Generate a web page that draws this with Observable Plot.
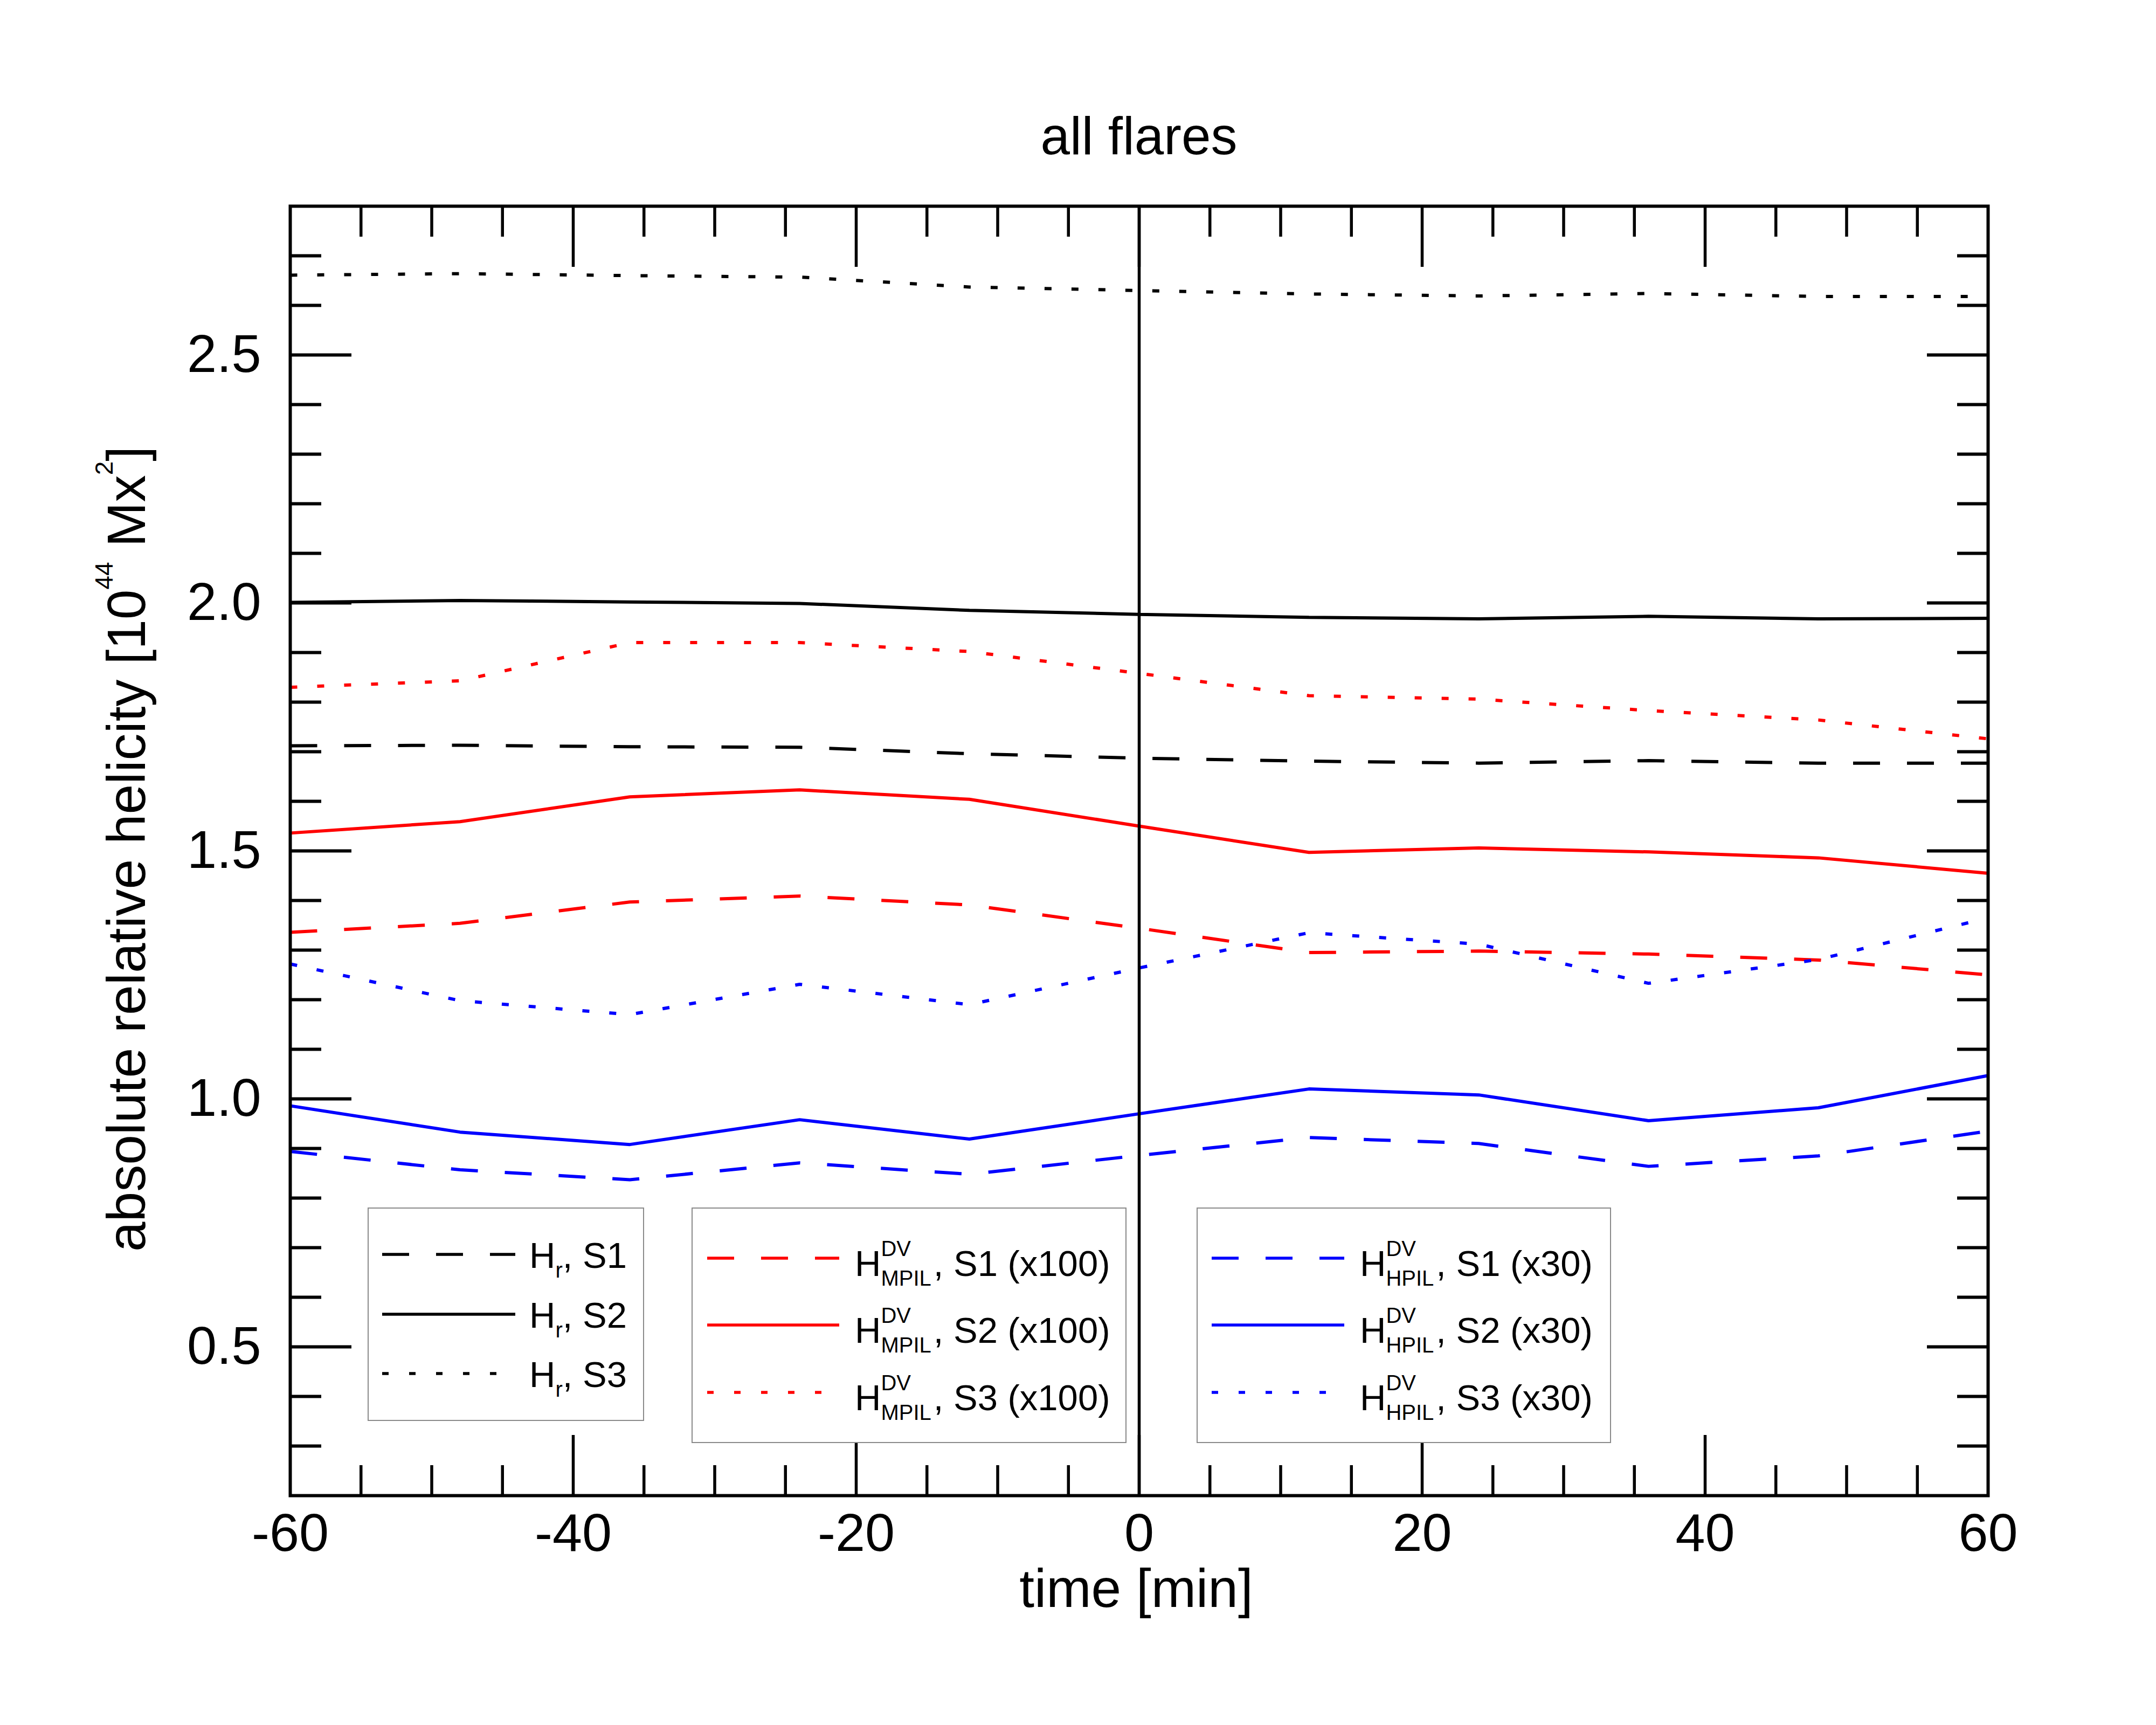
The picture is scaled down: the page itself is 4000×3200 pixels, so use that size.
<!DOCTYPE html>
<html>
<head>
<meta charset="utf-8">
<script src="https://cdn.jsdelivr.net/npm/d3@7"></script>
<script src="https://cdn.jsdelivr.net/npm/@observablehq/plot@0.6"></script>
<style>
html, body { margin: 0; padding: 0; background: #fff; }
#wrap { position: relative; width: 4000px; height: 3200px; font-family: "Liberation Sans", Arial, Helvetica, sans-serif; color: #000; overflow: hidden; }
#chart { position: absolute; left: 0; top: 330px; }
.title { position: absolute; left: 1113px; top: 203px; width: 2000px; text-align: center; font-size: 98px; line-height: 98px; white-space: nowrap; }
.xlabel { position: absolute; left: 1108px; top: 2896px; width: 2000px; text-align: center; font-size: 100px; line-height: 100px; white-space: nowrap; }
.ylabel { position: absolute; left: -766px; top: 1525px; width: 2000px; height: 100px; text-align: center; font-size: 100px; line-height: 100px; white-space: nowrap; transform: rotate(-90deg); }
.ysup { font-size: 46px; position: relative; top: -60px; }
.lbox { position: absolute; box-sizing: border-box; border: 2px solid #8a8a8a; background: #fff; }
.lt { position: absolute; font-size: 67px; line-height: 67px; white-space: nowrap; }
.sub { font-size: 40px; position: relative; top: 18px; }
.ss { display: inline-block; position: relative; font-size: 40px; line-height: 40px; margin-right: 4px; }
.ss .sb { position: relative; top: 18px; }
.ss .sp { position: absolute; left: 0; top: -37px; }
.samp { position: absolute; overflow: visible; }
</style>
</head>
<body>
<div id="wrap">
  <div class="title">all flares</div>
  <div id="chart"></div>
  <div class="xlabel">time [min]</div>
  <div class="ylabel">absolute relative helicity [10<span class="ysup">44</span> Mx<span class="ysup">2</span>]</div>
</div>
<script>
// ---------- data ----------
const time = [-60, -48, -36, -24, -12, 0, 12, 24, 36, 48, 60];

const hrS1 = [1.712, 1.713, 1.710, 1.709, 1.696, 1.687, 1.681, 1.677, 1.682, 1.677, 1.677];
const hrS2 = [2.001, 2.005, 2.002, 1.999, 1.985, 1.977, 1.971, 1.968, 1.973, 1.968, 1.969];
const hrS3 = [2.661, 2.664, 2.660, 2.657, 2.637, 2.630, 2.623, 2.619, 2.624, 2.618, 2.618];

const mpilS1 = [1.336, 1.354, 1.397, 1.409, 1.391, 1.344, 1.295, 1.298, 1.292, 1.280, 1.250];
const mpilS2 = [1.536, 1.559, 1.609, 1.623, 1.604, 1.550, 1.497, 1.506, 1.498, 1.486, 1.455];
const mpilS3 = [1.830, 1.843, 1.920, 1.920, 1.902, 1.858, 1.813, 1.806, 1.783, 1.764, 1.726];

const hpilS1 = [0.894, 0.857, 0.837, 0.871, 0.848, 0.886, 0.922, 0.910, 0.864, 0.885, 0.935];
const hpilS2 = [0.986, 0.933, 0.908, 0.958, 0.919, 0.970, 1.020, 1.008, 0.956, 0.982, 1.047];
const hpilS3 = [1.272, 1.198, 1.170, 1.231, 1.190, 1.264, 1.335, 1.312, 1.233, 1.281, 1.365];

const xTickLabels = [-60, -40, -20, 0, 20, 40, 60];
const yTickLabels = [0.5, 1.0, 1.5, 2.0, 2.5];
const sessions = ["S1", "S2", "S3"];

// ---------- styling ----------
const DASH = "50,50", DOT = "13,37", SOLID = null;
const series = [
  {key: "hrS1", values: hrS1, color: "#000000", dash: DASH},
  {key: "hrS2", values: hrS2, color: "#000000", dash: SOLID},
  {key: "hrS3", values: hrS3, color: "#000000", dash: DOT},
  {key: "mpilS1", values: mpilS1, color: "#ff0000", dash: DASH},
  {key: "mpilS2", values: mpilS2, color: "#ff0000", dash: SOLID},
  {key: "mpilS3", values: mpilS3, color: "#ff0000", dash: DOT},
  {key: "hpilS1", values: hpilS1, color: "#0000ff", dash: DASH},
  {key: "hpilS2", values: hpilS2, color: "#0000ff", dash: SOLID},
  {key: "hpilS3", values: hpilS3, color: "#0000ff", dash: DOT}
];
const rows = series.flatMap(s => time.map((t, i) => ({series: s.key, t, v: s.values[i]})));

const xMajor = [-40, -20, 0, 20, 40];
const xMinor = d3.range(-55, 60, 5).filter(d => d % 20 !== 0);
const yMajor = yTickLabels;
const yMinor = d3.range(3, 28).filter(i => i % 5 !== 0).map(i => i / 10);

const SVG_H = 2870;
const tickOpts = {fill: "none", stroke: "black", label: null};

const lineMarks = series.map(s => Plot.line(rows.filter(r => r.series === s.key), {
  x: "t", y: "v", stroke: s.color, strokeWidth: 6, strokeDasharray: s.dash,
  strokeLinecap: "butt", strokeLinejoin: "miter"
}));

const chart = Plot.plot({
  width: 4000,
  height: SVG_H,
  marginTop: 52,
  marginBottom: SVG_H - (2774 - 330),
  marginLeft: 538,
  marginRight: 312,
  x: {domain: [-60, 60]},
  y: {domain: [0.2, 2.8]},
  style: {background: "white", color: "black", fontFamily: "'Liberation Sans', Arial, sans-serif", fontSize: "99px"},
  marks: [
    ...lineMarks,
    Plot.ruleX([0], {stroke: "black", strokeWidth: 5.5}),
    Plot.axisX(xMinor, {anchor: "bottom", tickSize: -56, strokeWidth: 5.5, ...tickOpts}),
    Plot.axisX(xMajor, {anchor: "bottom", tickSize: -112, strokeWidth: 5.5, ...tickOpts}),
    Plot.axisX(xMinor, {anchor: "top", tickSize: -56, strokeWidth: 5.5, ...tickOpts}),
    Plot.axisX(xMajor, {anchor: "top", tickSize: -112, strokeWidth: 5.5, ...tickOpts}),
    Plot.axisY(yMinor, {anchor: "left", tickSize: -58, strokeWidth: 6, ...tickOpts}),
    Plot.axisY(yMajor, {anchor: "left", tickSize: -114, strokeWidth: 6, ...tickOpts}),
    Plot.axisY(yMinor, {anchor: "right", tickSize: -58, strokeWidth: 6, ...tickOpts}),
    Plot.axisY(yMajor, {anchor: "right", tickSize: -114, strokeWidth: 6, ...tickOpts}),
    Plot.axisX(xTickLabels, {anchor: "bottom", tickSize: 0, tickPadding: 32, tickFormat: d => String(d), fontSize: 99, label: null}),
    Plot.axisY(yTickLabels, {anchor: "left", tickSize: 0, tickPadding: 54, tickFormat: d3.format(".1f"), fontSize: 99, label: null}),
    Plot.frame({stroke: "black", strokeWidth: 6})
  ]
});
document.getElementById("chart").appendChild(chart);

// ---------- legends (HTML overlays) ----------
const wrap = document.getElementById("wrap");
function addBox(x, y, w, h) {
  const d = document.createElement("div");
  d.className = "lbox";
  Object.assign(d.style, {left: x + "px", top: y + "px", width: w + "px", height: h + "px"});
  wrap.appendChild(d);
}
function addSample(x1, x2, y, color, dash) {
  const ns = "http://www.w3.org/2000/svg";
  const svg = document.createElementNS(ns, "svg");
  svg.setAttribute("class", "samp");
  svg.setAttribute("width", x2 - x1);
  svg.setAttribute("height", 12);
  svg.style.left = x1 + "px";
  svg.style.top = (y - 6) + "px";
  const ln = document.createElementNS(ns, "line");
  ln.setAttribute("x1", 0); ln.setAttribute("x2", x2 - x1);
  ln.setAttribute("y1", 6); ln.setAttribute("y2", 6);
  ln.setAttribute("stroke", color);
  ln.setAttribute("stroke-width", 5.5);
  if (dash) ln.setAttribute("stroke-dasharray", dash === DOT ? "12,38" : dash);
  svg.appendChild(ln);
  wrap.appendChild(svg);
}
function addText(x, baseline, html) {
  const d = document.createElement("div");
  d.className = "lt";
  d.innerHTML = html;
  d.style.left = x + "px";
  d.style.top = (baseline - 56.7) + "px";
  wrap.appendChild(d);
}
const dashes = [DASH, SOLID, DOT];

// legend 1: H_r
addBox(682, 2240, 513, 396);
[2352, 2463, 2573].forEach((b, i) => {
  addSample(709, 956, b - 25, "#000000", dashes[i]);
  addText(982, b, `H<span class="sub">r</span>, ${sessions[i]}`);
});
// legend 2: MPIL
addBox(1283, 2240, 807, 437);
[2367, 2491, 2616].forEach((b, i) => {
  addSample(1312, 1557, b - 33, "#ff0000", dashes[i]);
  addText(1586, b, `H<span class="ss"><span class="sp">DV</span><span class="sb">MPIL</span></span>, ${sessions[i]} (x100)`);
});
// legend 3: HPIL
addBox(2220, 2240, 769, 437);
[2367, 2491, 2616].forEach((b, i) => {
  addSample(2248, 2494, b - 33, "#0000ff", dashes[i]);
  addText(2523, b, `H<span class="ss"><span class="sp">DV</span><span class="sb">HPIL</span></span>, ${sessions[i]} (x30)`);
});
</script>
</body>
</html>
